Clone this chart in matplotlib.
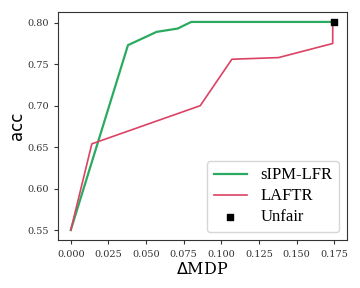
import matplotlib.pyplot as plt

# sIPM-LFR curve
sipm_dmdp = [0.000, 0.038, 0.057, 0.071, 0.080, 0.175]
sipm_acc = [0.550, 0.773, 0.789, 0.793, 0.801, 0.801]

# LAFTR curve
laftr_dmdp = [0.000, 0.014, 0.086, 0.107, 0.138, 0.174, 0.174]
laftr_acc = [0.550, 0.654, 0.700, 0.756, 0.758, 0.775, 0.801]

# unfair baseline
unfair_dmdp = [0.175]
unfair_acc = [0.801]

fig, ax = plt.subplots(figsize=(3.6, 2.88), dpi=100)
ax.plot(sipm_dmdp, sipm_acc, color='#2aaa60', lw=1.6, label='sIPM-LFR')
ax.plot(laftr_dmdp, laftr_acc, color='#dc4262', lw=1.2, label='LAFTR')
ax.scatter(unfair_dmdp, unfair_acc, marker='s', color='black', s=25, zorder=3,
           label='Unfair')

ax.set_yticks([0.55, 0.60, 0.65, 0.70, 0.75, 0.80])
ax.set_xticks([0.000, 0.025, 0.050, 0.075, 0.100, 0.125, 0.150, 0.175])
for lab in ax.get_xticklabels() + ax.get_yticklabels():
    lab.set_family('DejaVu Serif')
    lab.set_fontsize(7)
ax.tick_params(colors='#333333', labelcolor='#333333', length=3)
for sp in ax.spines.values():
    sp.set_color('#333333')

ax.set_xlabel(r'$\Delta$MDP', family='DejaVu Serif', fontsize=11.5, labelpad=2)
ax.set_ylabel('acc', fontsize=12, labelpad=1)
ax.legend(loc='lower right', prop={'family': 'Liberation Serif', 'size': 12},
          handlelength=2.0, borderpad=0.4, labelspacing=0.3)

fig.subplots_adjust(left=0.16, right=0.965, top=0.96, bottom=0.165)
fig.savefig('out.png', dpi=100)
